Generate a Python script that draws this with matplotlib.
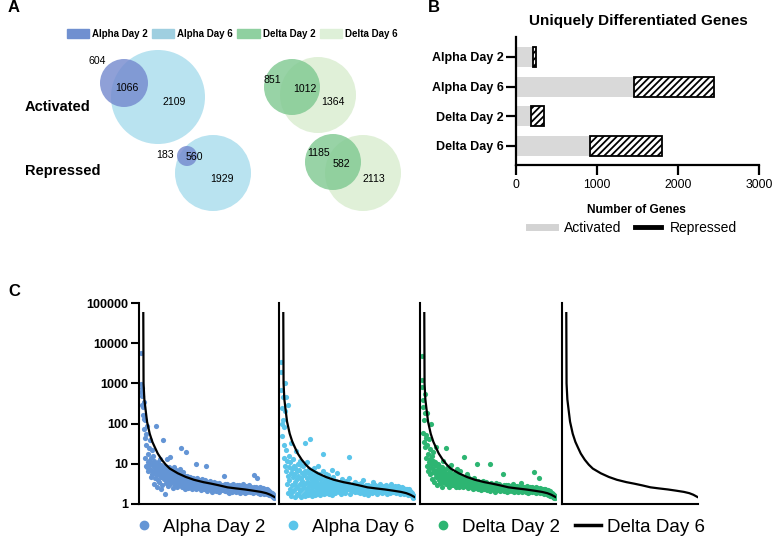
import numpy as np
import matplotlib.pyplot as plt
from matplotlib.patches import Circle, Patch
from matplotlib.lines import Line2D

plt.rcParams['font.family'] = ['Liberation Sans', 'DejaVu Sans']
plt.rcParams['hatch.linewidth'] = 1.3

# ---------------- data ----------------
groups = ['Alpha Day 2', 'Alpha Day 6', 'Delta Day 2', 'Delta Day 6']

# Venn counts: [day 2 only, shared, day 6 only]
alpha_act = [604, 1066, 2109]
delta_act = [851, 1012, 1364]
alpha_rep = [183, 560, 1929]
delta_rep = [1185, 582, 2113]

# uniquely differentiated genes
bar_activated = [210, 1460, 190, 910]
bar_repressed = [40, 990, 155, 890]

# Delta Day 6 reference curve (x = rank percentile)
curve_pct = [2.2, 2.4, 3, 4, 5, 7, 9, 11, 13, 16, 19, 22, 28, 34, 40, 47,
             53, 59, 65, 71, 78, 84, 90, 94, 97, 100]
curve_val = [56000, 1000, 400, 210, 112, 56, 35, 25, 18, 12.6, 9.5, 7.6,
             5.8, 4.7, 4.0, 3.5, 3.2, 2.9, 2.6, 2.45, 2.3, 2.15, 2.0, 1.86,
             1.7, 1.5]

# per-gene values, ordered by Delta Day 6 rank
alpha_d2 = [
    950, 620, 5800, 780, 480, 290, 260, 160, 340, 75, 130, 45,
    14, 120, 9.0, 55, 30, 8.5, 85, 11, 18, 6.5, 25, 12,
    7.5, 40, 9.5, 4.8, 14, 7.2, 22, 5.6, 10, 6.0, 16, 8.2,
    12, 3.2, 9.0, 6.8, 4.5, 85, 10, 5.2, 2.6, 7.5, 11, 4.0,
    6.0, 8.8, 3.6, 13, 5.5, 7.0, 2.4, 9.5, 4.6, 6.4, 3.0, 8.0,
    5.0, 40, 7.2, 4.2, 6.0, 1.8, 9.0, 5.4, 3.4, 7.6, 4.8, 13,
    6.5, 3.8, 5.8, 2.8, 8.2, 4.4, 6.8, 3.2, 15, 5.2, 4.0, 7.0,
    3.5, 5.6, 4.6, 2.5, 6.2, 3.9, 8.5, 4.9, 3.0, 5.8, 4.2, 6.9,
    3.4, 5.0, 4.3, 2.7, 6.0, 3.6, 4.7, 5.3, 2.9, 4.0, 7.4, 3.2,
    4.5, 3.1, 25, 5.6, 2.6, 4.1, 3.5, 6.2, 2.9, 4.8, 3.8, 2.4,
    5.1, 3.3, 20, 4.4, 2.8, 3.7, 5.0, 2.5, 4.0, 3.2, 4.6, 2.7,
    3.9, 3.0, 4.8, 3.5, 2.6, 4.2, 3.3, 2.3, 3.8, 4.5, 2.9, 3.4,
    3.6, 2.7, 4.1, 3.1, 10, 2.4, 3.9, 3.3, 2.8, 4.4, 3.0, 2.5,
    3.7, 3.2, 4.0, 2.6, 3.5, 2.9, 2.2, 3.8, 3.1, 2.7, 4.2, 3.3,
    2.5, 3.0, 3.6, 2.4, 3.3, 2.8, 4.0, 2.6, 3.1, 8.7, 2.1, 3.5,
    2.9, 3.2, 2.5, 3.4, 2.8, 3.0, 2.3, 3.7, 2.7, 3.1, 2.4, 3.3,
    2.0, 2.9, 3.2, 2.6, 2.9, 2.2, 3.5, 2.7, 3.0, 2.4, 2.8, 3.4,
    2.1, 2.6, 2.9, 2.3, 3.1, 2.7, 2.5, 3.3, 2.0, 2.8, 2.6, 3.0,
    2.2, 2.7, 2.4, 3.0, 2.6, 2.2, 2.9, 5.0, 2.5, 2.7, 2.1, 3.1,
    2.4, 2.8, 2.3, 2.6, 3.2, 2.2, 2.8, 2.0, 2.5, 2.7, 2.3, 1.9,
    2.6, 2.4, 3.0, 2.2, 2.5, 2.8, 2.0, 2.6, 2.4, 3.1, 2.2, 2.7,
    2.3, 2.5, 2.1, 2.8, 2.4, 2.0, 2.6, 3.0, 2.2, 2.5, 2.7, 2.1,
    2.4, 2.9, 2.2, 2.6, 1.9, 2.5, 2.3, 2.8, 2.1, 2.4, 3.2, 2.3,
    2.6, 2.0, 2.5, 2.2, 2.7, 2.4, 1.9, 2.5, 2.8, 2.2, 2.4, 2.0,
    2.3, 2.6, 2.1, 2.4, 2.9, 2.2, 2.5, 2.0, 2.3, 2.7, 2.1, 2.4,
    2.2, 2.5, 1.9, 2.3, 2.6, 2.1, 5.4, 2.4, 2.0, 2.2, 2.7, 2.3,
    2.1, 2.4, 4.5, 2.2, 1.9, 2.5, 2.3, 2.0, 2.6, 2.2, 1.8, 2.4,
    2.2, 2.0, 2.4, 1.9, 2.3, 2.5, 2.1, 1.8, 2.3, 2.0, 2.4, 2.1,
    1.9, 2.2, 2.0, 2.3, 1.8, 2.1, 1.9, 2.2, 1.7, 2.0, 2.1, 1.8,
    2.0, 1.7, 1.9, 1.8, 1.6, 1.9, 1.7, 1.5, 1.8, 1.6, 1.5, 1.4,
]
alpha_d6 = [
    1900, 3400, 700, 95, 250, 48, 460, 120, 14, 80, 30, 9.0,
    1050, 210, 6.5, 470, 22, 3.2, 12, 290, 5.0, 1.9, 8.5, 16,
    4.0, 2.4, 11, 6.0, 1.6, 32, 7.5, 3.0, 2.0, 13, 4.8, 9.0,
    2.2, 5.5, 3.5, 1.5, 8.0, 21, 2.8, 6.5, 1.8, 4.2, 10, 2.5,
    5.0, 1.7, 7.0, 3.2, 12, 2.1, 4.5, 1.5, 9.5, 3.8, 6.0, 2.4,
    8.8, 3.0, 1.8, 5.2, 2.6, 32, 1.6, 6.8, 3.4, 2.0, 11, 4.4,
    2.3, 5.8, 1.7, 3.6, 7.4, 2.8, 42, 4.6, 1.9, 3.2, 6.2, 2.2,
    4.0, 1.6, 5.0, 2.7, 3.5, 8.0, 2.0, 4.4, 2.9, 1.7, 3.8, 6.0,
    2.5, 3.3, 1.8, 4.8, 2.8, 9.0, 2.1, 5.5, 3.0, 2.4, 4.1, 1.7,
    3.4, 2.6, 4.5, 2.0, 3.1, 6.5, 2.3, 18, 1.8, 2.9, 3.5, 2.2,
    4.2, 2.7, 1.9, 5.6, 3.2, 2.4, 3.9, 2.1, 5.2, 2.8, 3.4, 1.8,
    2.6, 3.6, 2.2, 4.0, 2.9, 1.7, 7.0, 2.5, 4.6, 2.0, 3.0, 2.7,
    3.5, 2.3, 2.9, 1.9, 3.8, 2.6, 3.1, 2.1, 5.8, 2.8, 2.4, 3.3,
    2.0, 3.0, 2.5, 3.6, 2.2, 2.8, 1.8, 3.2, 2.6, 4.2, 2.3, 2.9,
    2.7, 2.1, 3.4, 2.4, 3.0, 1.9, 2.6, 3.7, 2.2, 2.8, 2.5, 3.1,
    2.3, 3.3, 2.6, 15, 2.9, 4.5, 2.4, 2.7, 1.8, 3.0, 2.5, 2.2,
    2.8, 2.4, 3.2, 2.1, 2.6, 2.9, 2.3, 3.5, 2.5, 2.0, 2.7, 3.0,
    2.4, 2.2, 2.8, 3.1, 2.0, 2.6, 2.3, 2.9, 2.5, 1.9, 2.7, 2.2,
    3.3, 2.5, 2.1, 2.7, 2.3, 4.0, 2.6, 2.2, 2.4, 1.8, 2.8, 2.1,
    2.5, 2.9, 2.0, 2.4, 2.7, 2.2, 1.7, 2.6, 3.0, 2.3, 2.0, 2.5,
    2.2, 2.6, 2.8, 2.1, 2.4, 1.9, 2.7, 2.3, 3.6, 2.0, 2.5, 2.3,
    2.7, 2.1, 2.4, 2.9, 2.2, 2.6, 1.8, 2.5, 2.3, 2.8, 2.0, 2.4,
    2.3, 2.6, 2.0, 2.5, 3.1, 2.2, 2.4, 2.7, 1.9, 2.3, 2.6, 2.1,
    2.5, 2.2, 2.8, 2.0, 2.4, 2.6, 2.1, 2.9, 2.3, 1.8, 2.5, 2.2,
    2.4, 2.7, 2.1, 2.3, 2.6, 1.9, 2.5, 2.2, 3.2, 2.4, 2.0, 2.6,
    2.2, 2.4, 2.7, 2.0, 2.3, 2.5, 2.1, 2.8, 2.2, 1.9, 2.4, 2.6,
    2.3, 2.1, 2.5, 2.8, 2.0, 2.4, 2.2, 2.6, 1.8, 2.3, 2.5, 2.1,
    2.4, 2.0, 2.2, 2.6, 1.9, 2.3, 2.5, 2.1, 2.4, 1.8, 2.2, 2.3,
    2.1, 2.3, 1.9, 2.2, 2.0, 2.4, 1.7, 2.1, 2.3, 1.9, 2.0, 1.8,
    1.9, 2.1, 1.7, 2.0, 1.6, 1.8, 1.9, 1.5, 1.7, 1.4, 1.6, 1.5,
]
delta_d2 = [
    4800, 1200, 820, 380, 260, 60, 120, 34, 560, 180, 26, 45,
    14, 52, 9.0, 180, 30, 6.5, 18, 11, 42, 7.8, 24, 13,
    5.5, 95, 10, 16, 4.2, 8.0, 12, 6.2, 20, 7.0, 3.5, 9.5,
    5.8, 11, 26, 6.8, 4.6, 8.8, 2.9, 6.0, 10, 5.0, 7.6, 4.0,
    9.0, 5.4, 3.4, 7.2, 4.8, 6.4, 2.6, 5.8, 8.2, 4.2, 12, 3.6,
    5.2, 7.0, 3.8, 4.6, 6.2, 3.1, 5.6, 25, 8.0, 3.5, 5.0, 4.4,
    3.3, 5.8, 4.0, 2.7, 4.9, 6.6, 3.6, 4.4, 9.5, 3.0, 5.2, 3.9,
    4.6, 3.4, 5.5, 2.9, 4.2, 3.7, 6.0, 3.2, 4.8, 2.6, 3.9, 7.4,
    3.5, 4.9, 3.0, 4.0, 2.7, 5.2, 3.6, 4.3, 6.5, 3.1, 3.8, 2.8,
    4.5, 3.3, 3.9, 2.6, 4.1, 3.0, 15, 3.5, 2.9, 4.3, 3.2, 3.7,
    2.8, 3.9, 5.6, 3.3, 4.6, 2.5, 3.6, 3.1, 4.0, 2.7, 3.4, 3.8,
    3.0, 4.2, 2.6, 3.5, 3.2, 2.3, 3.9, 2.8, 3.4, 4.5, 2.7, 3.1,
    3.6, 2.5, 3.3, 2.9, 10, 2.7, 3.2, 2.4, 3.7, 3.0, 2.6, 3.4,
    2.8, 3.2, 2.4, 3.5, 2.9, 2.2, 3.1, 2.7, 3.8, 2.5, 3.0, 2.6,
    3.3, 2.4, 2.9, 3.1, 2.3, 2.8, 3.6, 2.6, 2.2, 3.0, 2.7, 2.5,
    2.9, 3.2, 2.4, 10, 3.0, 2.1, 2.8, 2.6, 3.4, 2.3, 2.9, 2.5,
    2.6, 2.8, 2.2, 3.0, 2.5, 2.7, 2.0, 2.9, 2.4, 3.3, 2.6, 2.3,
    2.7, 2.4, 2.9, 2.2, 2.6, 3.1, 2.3, 2.8, 2.1, 2.5, 2.7, 2.4,
    2.5, 2.8, 2.3, 5.6, 2.6, 2.1, 2.9, 2.4, 2.7, 2.2, 2.5, 3.0,
    2.3, 2.6, 2.0, 2.7, 2.4, 2.9, 2.2, 2.5, 2.1, 2.8, 2.4, 2.6,
    2.2, 2.5, 2.7, 2.1, 2.4, 3.2, 2.3, 2.6, 2.0, 2.5, 2.8, 2.2,
    2.6, 2.3, 2.1, 2.5, 2.8, 2.2, 2.4, 2.0, 2.7, 2.3, 2.5, 2.1,
    2.4, 2.2, 2.6, 3.4, 2.3, 2.5, 2.0, 2.4, 2.7, 2.1, 2.3, 2.6,
    2.2, 2.5, 2.1, 2.4, 2.6, 2.0, 2.3, 2.8, 2.2, 2.4, 1.9, 2.5,
    2.3, 2.0, 2.5, 2.2, 2.7, 2.4, 2.1, 2.3, 2.6, 2.0, 2.4, 2.2,
    2.5, 2.1, 2.3, 6.2, 2.0, 2.4, 2.2, 2.6, 1.9, 2.3, 2.5, 2.1,
    2.2, 2.4, 2.0, 2.3, 4.4, 2.1, 2.5, 1.9, 2.2, 2.4, 2.0, 2.3,
    2.1, 2.3, 1.9, 2.2, 2.0, 2.4, 1.8, 2.1, 2.3, 1.9, 2.2, 2.0,
    2.0, 1.8, 2.1, 1.9, 2.2, 1.7, 2.0, 1.8, 2.1, 1.6, 1.9, 1.8,
    1.8, 1.6, 1.9, 1.7, 1.5, 1.8, 1.6, 1.4, 1.7, 1.5, 1.6, 1.4,
]

venn_colors = ['#7388ce', '#b9e3f0', '#7ec890', '#e0f0d8']
legend_colors = ['#7090d0', '#9fcfe0', '#8fd0a0', '#def0d8']
dot_colors = ['#6495d5', '#5bc5ea', '#2db572']

# ---------------- figure ----------------
W, H = 773, 537
fig = plt.figure(figsize=(W / 100, H / 100), dpi=100)

def fx(px):
    return px / W

def fy(py):
    return 1 - py / H

# panel letters
for letter, (px, py) in zip('ABC', [(8, 8), (428, 8), (8, 292)]):
    fig.text(fx(px), fy(py), letter, fontsize=12, fontweight='bold',
             ha='left', va='center')

# ---------------- A: Venn diagrams ----------------
ax_a = fig.add_axes([0, 0, 1, 1], zorder=0)
ax_a.set_xlim(0, W)
ax_a.set_ylim(H, 0)
ax_a.axis('off')

# layout: (counts, day2 color, day6 color, day2 circle, day6 circle, label spots)
venns = [
    (alpha_act, venn_colors[0], venn_colors[1], (124, 83, 24), (158, 97, 47),
     [(97, 61), (127, 88), (174, 102)]),
    (delta_act, venn_colors[2], venn_colors[3], (292, 87, 28), (318, 95, 38),
     [(272, 80), (305, 89), (333, 102)]),
    (alpha_rep, venn_colors[0], venn_colors[1], (187, 156, 10), (213, 173, 38),
     [(165, 155), (194, 157), (222, 179)]),
    (delta_rep, venn_colors[2], venn_colors[3], (333, 162, 28), (363, 173, 38),
     [(319, 153), (341, 164), (374, 179)]),
]
for counts, c2, c6, d2, d6, spots in venns:
    ax_a.add_patch(Circle(d6[:2], d6[2], color=c6, lw=0))
    ax_a.add_patch(Circle(d2[:2], d2[2], color=c2, alpha=0.8, lw=0))
    for n, (x, y) in zip(counts, spots):
        ax_a.text(x, y, str(n), ha='center', va='center', fontsize=7.6)

ax_a.text(25, 107, 'Activated', fontsize=10.5, fontweight='bold', va='center')
ax_a.text(25, 171, 'Repressed', fontsize=10.5, fontweight='bold', va='center')

fig.legend(handles=[Patch(color=c) for c in legend_colors], labels=groups,
           ncol=4, loc='center', bbox_to_anchor=(fx(232), fy(34)),
           frameon=False, prop=dict(weight='bold', size=7),
           handlelength=2.3, handleheight=1.0, handletextpad=0.3,
           columnspacing=0.45, borderpad=0)

# ---------------- B: stacked bars ----------------
ax_b = fig.add_axes([fx(516), fy(165), 243 / W, 128 / H])
ypos = np.arange(len(groups))
ax_b.barh(ypos, bar_activated, height=0.67, color='#d9d9d9', lw=0)
ax_b.barh(ypos, bar_repressed, left=bar_activated, height=0.67,
          color='white', edgecolor='black', hatch='/////', lw=1.3)
ax_b.set_ylim(3.64, -0.67)
ax_b.set_xlim(0, 3000)
ax_b.set_xticks([0, 1000, 2000, 3000])
ax_b.set_yticks(ypos)
ax_b.set_yticklabels(groups, fontweight='bold', fontsize=9)
ax_b.tick_params(axis='x', labelsize=8.8, width=1.6, length=7, pad=3)
ax_b.tick_params(axis='y', width=1.6, length=7, pad=2)
for s in ['top', 'right']:
    ax_b.spines[s].set_visible(False)
for s in ['left', 'bottom']:
    ax_b.spines[s].set_linewidth(1.6)

fig.text(fx(638), fy(21), 'Uniquely Differentiated Genes', fontsize=11,
         fontweight='bold', ha='center', va='center')
fig.text(fx(636), fy(210), 'Number of Genes', fontsize=8.6,
         fontweight='bold', ha='center', va='center')
fig.legend(handles=[Line2D([], [], color='#d3d3d3', lw=5),
                    Line2D([], [], color='black', lw=3.5)],
           labels=['Activated', 'Repressed'], ncol=2, loc='center',
           bbox_to_anchor=(fx(633), fy(228)), frameon=False, fontsize=10,
           handlelength=1.9, handletextpad=0.6, columnspacing=1.0, borderpad=0)

# ---------------- C: rank plots ----------------
series = [alpha_d2, alpha_d6, delta_d2, None]
lefts = [139, 279, 420, 562]
for k, (vals, left) in enumerate(zip(series, lefts)):
    ax = fig.add_axes([fx(left), fy(504), 136 / W, 201 / H])
    if vals is not None:
        n = len(vals)
        xr = (np.arange(n) + 0.5) / n * 100
        ax.scatter(xr, vals, s=14, color=dot_colors[k], lw=0, zorder=2)
    ax.plot(curve_pct, curve_val, color='black', lw=1.6, zorder=3)
    ax.set_yscale('log')
    ax.set_ylim(1, 1e5)
    ax.set_xlim(-1, 100.5)
    ax.set_xticks([])
    ax.minorticks_off()
    for s in ['top', 'right']:
        ax.spines[s].set_visible(False)
    for s in ['left', 'bottom']:
        ax.spines[s].set_linewidth(1.5)
    if k == 0:
        ticks = [1, 10, 100, 1000, 10000, 100000]
        ax.set_yticks(ticks)
        ax.set_yticklabels([str(t) for t in ticks], fontweight='bold',
                           fontsize=9)
        ax.tick_params(axis='y', width=1.5, length=6, pad=2)
    else:
        ax.set_yticks([])

handles = [Line2D([], [], marker='o', ls='', color=c, markersize=6)
           for c in dot_colors]
handles.append(Line2D([], [], color='black', lw=2.5))
fig.legend(handles=handles, labels=groups, ncol=4, loc='center',
           bbox_to_anchor=(fx(418), fy(527)), frameon=False, fontsize=13.5,
           handlelength=1.4, handletextpad=0.32, columnspacing=0.8,
           borderpad=0)

fig.savefig('out.png', dpi=100)
